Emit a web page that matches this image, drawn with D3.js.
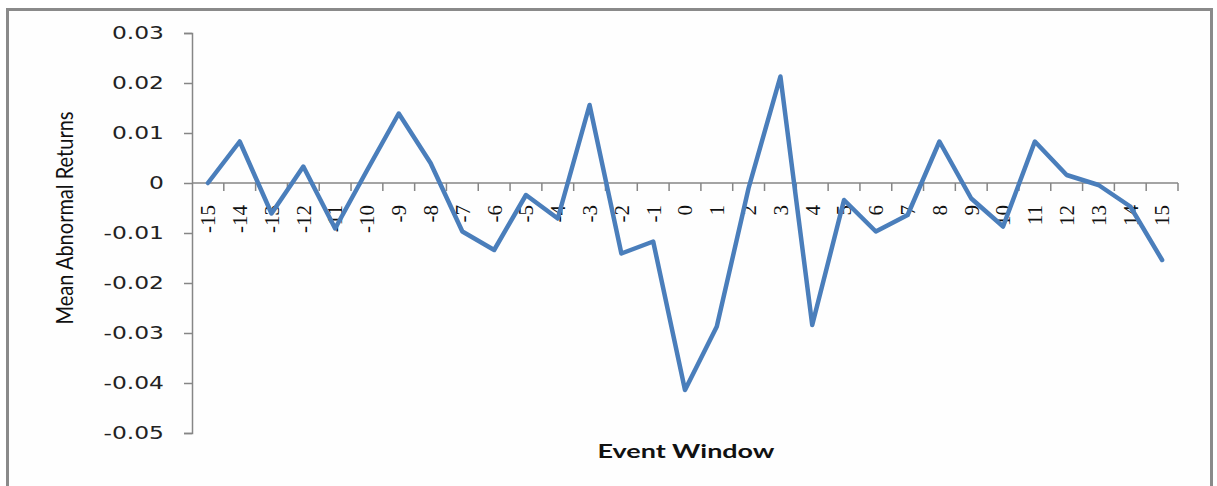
<!DOCTYPE html>
<html>
<head>
<meta charset="utf-8">
<script src="https://cdn.jsdelivr.net/npm/d3@7"></script>
<style>
  html, body { margin: 0; padding: 0; background: #ffffff; }
  svg { display: block; }
</style>
</head>
<body>
<svg id="chart" width="1217" height="486"></svg>
<script>
// Event days around the announcement
const eventDays = [-15,-14,-13,-12,-11,-10,-9,-8,-7,-6,-5,-4,-3,-2,-1,0,1,2,3,4,5,6,7,8,9,10,11,12,13,14,15];
// Mean abnormal return for each event day
const meanAbnormalReturns = [
  0, 0.0083, -0.0061, 0.0033, -0.0091, 0.0025, 0.0139, 0.004, -0.0097, -0.0134,
  -0.0024, -0.0071, 0.0156, -0.0141, -0.0117, -0.0414, -0.0287, -0.001, 0.0213, -0.0284,
  -0.0034, -0.0097, -0.0064, 0.0083, -0.0031, -0.0087, 0.0083, 0.0016, -0.0004, -0.0047,
  -0.0154
];
// Value-axis tick labels
const yTickValues = [0.03, 0.02, 0.01, 0, -0.01, -0.02, -0.03, -0.04, -0.05];
const yTickLabels = ["0.03", "0.02", "0.01", "0", "-0.01", "-0.02", "-0.03", "-0.04", "-0.05"];

const svg = d3.select("#chart");
const axisColor = "#868686";
const lineColor = "#4a7ebb";

// outer chart frame
svg.append("rect")
  .attr("x", 7.5).attr("y", 9.5)
  .attr("width", 1204).attr("height", 500)
  .attr("fill", "#fefefe")
  .attr("stroke", "#8a8a8a")
  .attr("stroke-width", 3);

const plot = { left: 192, right: 1178, top: 33, bottom: 433 };

const x = d3.scaleBand()
  .domain(eventDays)
  .range([plot.left, plot.right])
  .paddingInner(0).paddingOuter(0);

const y = d3.scaleLinear()
  .domain([-0.05, 0.03])
  .range([plot.bottom, plot.top]);

// value axis
const yAxis = d3.axisLeft(y)
  .tickValues(yTickValues)
  .tickSize(8)
  .tickPadding(0)
  .tickFormat("");
const gy = svg.append("g")
  .attr("transform", `translate(${plot.left},0)`)
  .call(yAxis);
gy.select(".domain").attr("stroke", axisColor).attr("stroke-width", 1.5);
gy.selectAll(".tick line").attr("stroke", axisColor).attr("stroke-width", 1.5);

// value tick labels
svg.append("g").selectAll("text")
  .data(yTickValues)
  .join("text")
  .attr("transform", d => `translate(164,${y(d)}) scale(1.3,1)`)
  .attr("dy", "0.36em")
  .attr("text-anchor", "end")
  .attr("font-family", "DejaVu Sans, Verdana, sans-serif")
  .attr("font-size", 18)
  .attr("fill", "#222")
  .text((d, i) => yTickLabels[i]);

// category axis along zero
const y0 = y(0);
svg.append("line")
  .attr("x1", plot.left).attr("x2", plot.right)
  .attr("y1", y0).attr("y2", y0)
  .attr("stroke", axisColor).attr("stroke-width", 1.5);

const boundaries = eventDays.map(d => x(d)).concat([x(eventDays[eventDays.length - 1]) + x.bandwidth()]);
svg.append("g").selectAll("line")
  .data(boundaries.slice(1))
  .join("line")
  .attr("x1", d => d).attr("x2", d => d)
  .attr("y1", y0).attr("y2", y0 + 8)
  .attr("stroke", axisColor).attr("stroke-width", 1.5);

// category labels, rotated
svg.append("g").selectAll("text")
  .data(eventDays)
  .join("text")
  .attr("transform", d => `translate(${x(d) + x.bandwidth() / 2},205) rotate(-90)`)
  .attr("dy", "0.35em")
  .attr("text-anchor", "end")
  .attr("font-family", "Liberation Serif, Times New Roman, serif")
  .attr("font-size", 21)
  .attr("fill", "#111")
  .text(d => d);

// mean abnormal return line
const line = d3.line()
  .x((d, i) => x(eventDays[i]) + x.bandwidth() / 2)
  .y(d => y(d));
svg.append("path")
  .datum(meanAbnormalReturns)
  .attr("d", line)
  .attr("fill", "none")
  .attr("stroke", lineColor)
  .attr("stroke-width", 4.5)
  .attr("stroke-linejoin", "round")
  .attr("stroke-linecap", "round");

// axis titles
svg.append("text")
  .attr("transform", "translate(73,218) rotate(-90)")
  .attr("text-anchor", "middle")
  .attr("font-family", "Lato, Open Sans, sans-serif")
  .attr("font-size", 24)
  .attr("textLength", 213)
  .attr("lengthAdjust", "spacingAndGlyphs")
  .attr("fill", "#111")
  .text("Mean Abnormal Returns");

svg.append("text")
  .attr("x", 686).attr("y", 458)
  .attr("text-anchor", "middle")
  .attr("font-family", "Lato, Open Sans, sans-serif")
  .attr("font-weight", "bold")
  .attr("font-size", 18)
  .attr("textLength", 177)
  .attr("lengthAdjust", "spacingAndGlyphs")
  .attr("fill", "#111")
  .text("Event Window");
</script>
</body>
</html>
